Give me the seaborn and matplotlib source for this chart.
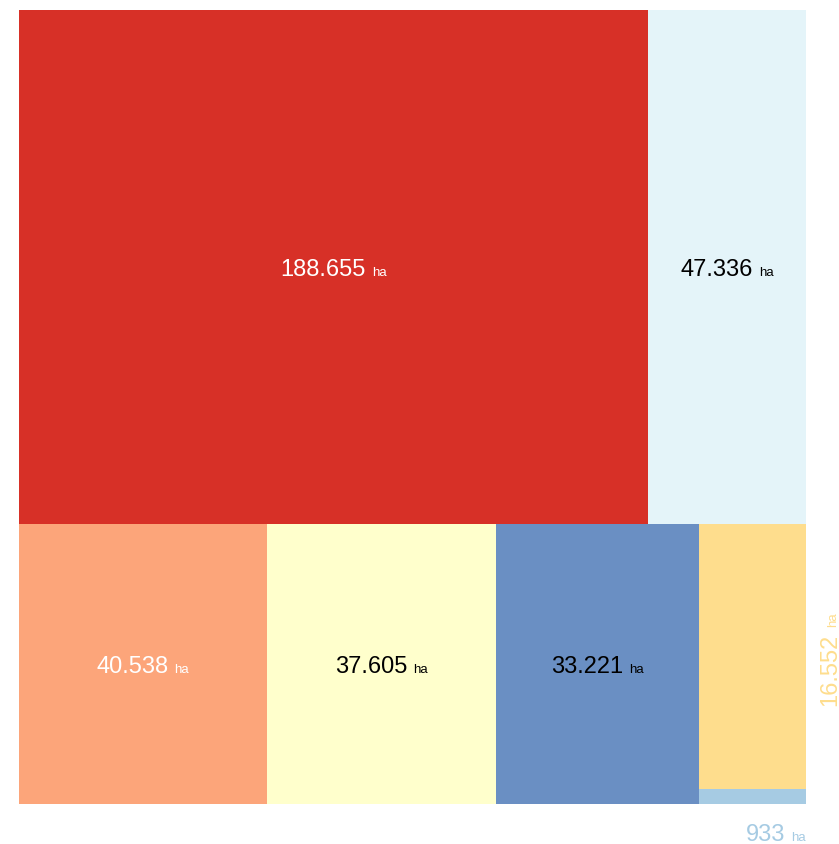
import matplotlib
matplotlib.use("Agg")
import matplotlib.pyplot as plt
import seaborn as sns

# ---- data ----
values = [188655, 47336, 40538, 37605, 33221, 16552, 933]
colors = ["#d73027", "#e4f4f9", "#fca57a", "#ffffcc", "#6a8fc3", "#fedd8d", "#a6cbe3"]
label_colors = ["white", "black", "white", "black", "black", "#fedd8d", "#a6cbe3"]
unit = "ha"

sns.set_theme(style="white")
plt.rcParams["font.family"] = ["Liberation Sans", "DejaVu Sans"]

W, H, DPI = 839, 844, 100
fig = plt.figure(figsize=(W / DPI, H / DPI), dpi=DPI)
ax = fig.add_axes([19 / W, 40 / H, 787 / W, 794 / H])

# ---- layout (slice-and-dice treemap) ----
total = sum(values)
top = values[:2]
bottom = values[2:5]
corner = values[5:]
h_top = sum(top) / total
rects = []
x = 0.0
for v in top:
    w = v / sum(top)
    rects.append((x, 0.0, w, h_top))
    x += w
bottom_total = total - sum(top)
x = 0.0
for v in bottom:
    w = v / bottom_total
    rects.append((x, h_top, w, 1 - h_top))
    x += w
wc = sum(corner) / bottom_total
y = h_top
for v in corner:
    h = v / sum(corner) * (1 - h_top)
    rects.append((x, y, wc, h))
    y += h

for (rx, ry, rw, rh), c in zip(rects, colors):
    ax.bar([rx], [rh], width=[rw], bottom=[ry], align="edge", color=c, linewidth=0)

ax.set_xlim(0, 1)
ax.set_ylim(1, 0)
ax.axis("off")

NUM_FS = 17
UNIT_FS = 9.5
GAP = 6  # pixels

fig.canvas.draw()
renderer = fig.canvas.get_renderer()


def text_width(s, fs):
    t = fig.text(0, 0, s, fontsize=fs)
    w = t.get_window_extent(renderer).width
    t.remove()
    return w


def fmt(v):
    return f"{v:,}".replace(",", ".")


for i, ((rx, ry, rw, rh), v, lc) in enumerate(zip(rects, values, label_colors)):
    s = fmt(v)
    w1 = text_width(s, NUM_FS)
    w2 = text_width(unit, UNIT_FS)
    tot = w1 + GAP + w2
    if i < 5:
        cx, cy = rx + rw / 2, ry + rh / 2
        x0 = -tot / 2
        yoff = -9
        ax.annotate(s, (cx, cy), xytext=(x0, yoff), textcoords="offset pixels",
                    ha="left", va="baseline", fontsize=NUM_FS, color=lc)
        ax.annotate(unit, (cx, cy), xytext=(x0 + w1 + GAP, yoff), textcoords="offset pixels",
                    ha="left", va="baseline", fontsize=UNIT_FS, color=lc)
    elif i == 5:
        # rotated label to the right of the rectangle
        ax_x, cy = rx + rw, ry + rh / 2
        y0 = -tot / 2 - 3
        ax.annotate(s, (ax_x, cy), xytext=(30, y0), textcoords="offset pixels",
                    ha="left", va="baseline", rotation=90, rotation_mode="anchor",
                    fontsize=NUM_FS, color=lc)
        ax.annotate(unit, (ax_x, cy), xytext=(30, y0 + w1 + GAP), textcoords="offset pixels",
                    ha="left", va="baseline", rotation=90, rotation_mode="anchor",
                    fontsize=UNIT_FS, color=lc)
    else:
        # label below the rectangle, right aligned
        ex, ey = rx + rw, ry + rh
        ax.annotate(s, (ex, ey), xytext=(-tot, -37), textcoords="offset pixels",
                    ha="left", va="baseline", fontsize=NUM_FS, color=lc,
                    annotation_clip=False)
        ax.annotate(unit, (ex, ey), xytext=(-w2, -37), textcoords="offset pixels",
                    ha="left", va="baseline", fontsize=UNIT_FS, color=lc,
                    annotation_clip=False)

fig.savefig("out.png", dpi=DPI)
